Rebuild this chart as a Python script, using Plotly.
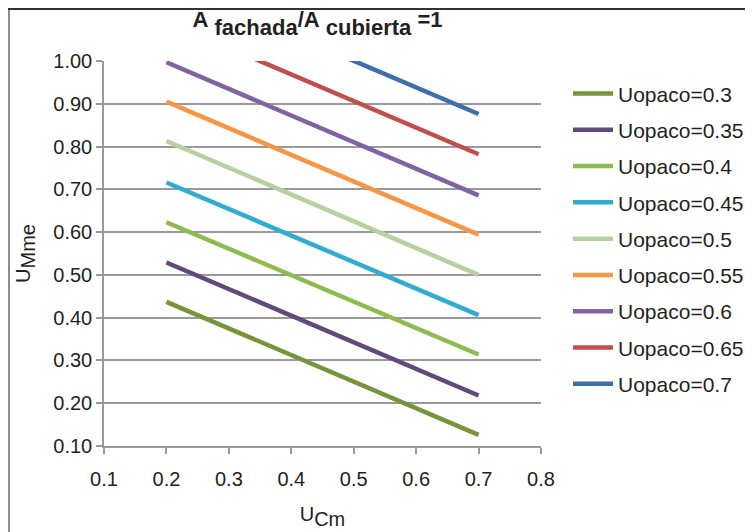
import plotly.graph_objects as go

# Data
x_ucm = [0.2, 0.7]
series_names = ["Uopaco=0.3", "Uopaco=0.35", "Uopaco=0.4", "Uopaco=0.45", "Uopaco=0.5",
                "Uopaco=0.55", "Uopaco=0.6", "Uopaco=0.65", "Uopaco=0.7"]
u03 = [0.437, 0.126]
u035 = [0.529, 0.218]
u04 = [0.623, 0.314]
u045 = [0.716, 0.406]
u05 = [0.813, 0.500]
u055 = [0.905, 0.594]
u06 = [0.997, 0.686]
u065 = [1.093, 0.782]
u07 = [1.187, 0.876]
series_values = [u03, u035, u04, u045, u05, u055, u06, u065, u07]
colors = ["#77933C", "#604A7B", "#8CBB4F", "#31ACCC", "#B5D19F",
          "#F79646", "#8064A2", "#C0504D", "#3E6FA5"]

x_ticks = [0.1, 0.2, 0.3, 0.4, 0.5, 0.6, 0.7, 0.8]
y_ticks = [0.10, 0.20, 0.30, 0.40, 0.50, 0.60, 0.70, 0.80, 0.90, 1.00]

FONT = "Liberation Sans, Arial, Helvetica, sans-serif"
TXT = "#231F20"

# figure sits inside an 8px page margin
W, H = 745, 524
ML, MR, MT, MB = 96, 212, 53, 86
PW = W - ML - MR
PH = H - MT - MB


def sz(t, px):
    return f"<span style='font-size:{px}px'>{t}</span>"


title_txt = ("<b>" + sz("A", 22) + "<sub>" + sz(" fachada", 22) + "</sub>" + sz("/A", 22)
             + "<sub>" + sz(" cubierta", 22) + "</sub>" + sz(" =1", 22) + "</b>")
xtitle_txt = sz("U", 20) + "<sub>" + sz("Cm", 20) + "</sub>"
ytitle_txt = sz("U", 20) + "<sub>" + sz("Mme", 20) + "</sub>"

fig = go.Figure()
for i, (name, vals, col) in enumerate(zip(series_names, series_values, colors)):
    fig.add_trace(go.Scatter(
        x=x_ucm, y=vals, mode="lines", name=name,
        line=dict(color=col, width=4.5), legendgroup=f"g{i}",
    ))

fig.update_layout(
    width=W, height=H,
    margin=dict(l=ML, r=MR, t=MT, b=MB, autoexpand=False),
    paper_bgcolor="white", plot_bgcolor="white",
    font=dict(family=FONT, color=TXT, size=20),
    title=dict(
        text=title_txt,
        x=0.5 - 5 / PW, xref="paper", xanchor="center",
        y=1 - 6 / H, yref="container", yanchor="middle",
        font=dict(size=38, family=FONT, color=TXT),
    ),
    showlegend=True,
    legend=dict(
        x=(560 - ML) / PW, xanchor="left", y=0.968, yanchor="top",
        font=dict(size=21, family=FONT, color=TXT),
        tracegroupgap=6, itemwidth=40,
        bgcolor="rgba(0,0,0,0)",
    ),
    xaxis=dict(
        range=[0.1, 0.8], tickvals=x_ticks, ticktext=[f"{v:.1f}" for v in x_ticks],
        showgrid=False, zeroline=False, automargin=False,
        showline=True, linecolor="#9A9A9E", linewidth=1.5,
        ticks="outside", ticklen=6, tickcolor="#9A9A9E", tickwidth=1.5,
        ticklabelstandoff=8,
        tickfont=dict(size=20, family=FONT, color=TXT),
        title=dict(text=xtitle_txt, font=dict(size=24, family=FONT, color=TXT), standoff=15),
    ),
    yaxis=dict(
        range=[0.1, 1.0], tickvals=y_ticks, ticktext=[f"{v:.2f}" for v in y_ticks],
        showgrid=True, gridcolor="#9A9A9E", gridwidth=1.5, zeroline=False, automargin=False,
        showline=True, linecolor="#9A9A9E", linewidth=1.5,
        ticks="outside", ticklen=6, tickcolor="#9A9A9E", tickwidth=1.5,
        tickfont=dict(size=20, family=FONT, color=TXT),
        title=dict(text=ytitle_txt, font=dict(size=24, family=FONT, color=TXT), standoff=16),
    ),
    shapes=[
        dict(type="line", xref="paper", yref="paper",
             x0=(1 - ML) / PW, x1=(1 - ML) / PW, y0=(PH + MT - 0) / PH, y1=(PH + MT - H - 10) / PH,
             line=dict(color="#8E8E8E", width=2)),
        dict(type="line", xref="paper", yref="paper",
             x0=(0 - ML) / PW, x1=(W + 10 - ML) / PW, y0=(PH + MT - 1) / PH, y1=(PH + MT - 1) / PH,
             line=dict(color="#333333", width=2)),
    ],
)

fig.write_html("out.html")
